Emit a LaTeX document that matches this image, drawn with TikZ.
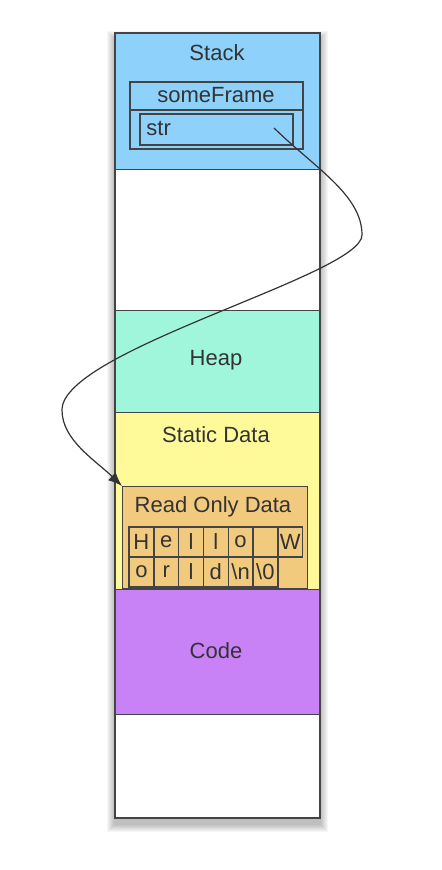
\documentclass[tikz,border=0pt]{standalone}
\usepackage{fontspec}
\setmainfont{Liberation Sans}
\usetikzlibrary{arrows.meta}
\usetikzlibrary{math}
\definecolor{stackblue}{HTML}{8ED1FA}
\definecolor{heapgreen}{HTML}{A0F6DA}
\definecolor{staticyellow}{HTML}{FFFA99}
\definecolor{codepurple}{HTML}{C982F6}
\definecolor{rodorange}{HTML}{F1CA7E}
\definecolor{txtgray}{HTML}{333333}
\definecolor{linegray}{HTML}{444444}

\begin{document}
\begin{tikzpicture}[x=0.5pt,y=-0.5pt,
  lbl/.style={text=txtgray,font=\fontsize{11}{13}\selectfont,inner sep=0pt},
  seg/.style={draw=linegray,line width=0.6pt},
  box/.style={draw=linegray,line width=0.7pt},
  cell/.style={box,minimum width=12.4pt,minimum height=15pt,inner sep=0pt,
    text=txtgray,font=\fontsize{11}{13}\selectfont},
  ptrline/.style={draw=txtgray,line width=0.6pt,-{Latex[length=7pt,width=5.5pt]}}]
 \useasboundingbox (0,0) rectangle (442,870);
 % shadow
 \foreach \s in {1,...,8}
   \fill[black,opacity=0.035] (115-\s,39-\s) rectangle (320+\s,824+\s);
 \def\xl{115}
 \def\xr{320}
 \foreach \y / \col [remember=\y as \oldy (initially 33)] in {170/stackblue, 311/white, 413/heapgreen, 590/staticyellow, 715/codepurple, 818/white}
 {
   \fill[\col] (\xl,\oldy) rectangle (\xr,\y);
   \draw[seg] (\xl,\y) -- (\xr,\y);
 }
 \draw[draw=linegray,line width=1pt] (\xl,33) rectangle (\xr,818);

 \node[lbl] (stack) at (217,53) {Stack};
 \node[lbl] (heap) at (216,360) {Heap};
 \node[lbl] (static) at (216,435) {Static Data};
 \node[lbl] (code) at (216,651) {Code};

 % frame with the local variable
 \draw[box] (130,82) rectangle (303,149);
 \draw[box] (130,110) -- (303,110);
 \node[lbl] (frame) at (216,95) {someFrame};
 \draw[box] (140,114) rectangle (293,145);
 \node[lbl,anchor=west] (str) at (146,129) {str};
 \coordinate (ptr) at (274,128);

 % read only data
 \node[box,fill=rodorange,anchor=north west,minimum width=92.5pt,minimum height=51pt,inner sep=0pt] (rod) at (122,486) {};
 \node[lbl] (rodlbl) at (213,507) {Read Only Data};
 \foreach \c [count=\i from 0] in {H,e,l,l,o,{},W}
   \node[cell] (a\i) at (129+24.8*\i+12.4,542) {\c};
 \foreach \c [count=\i from 0] in {o,r,l,d,\textbackslash n,\textbackslash 0}
   \node[cell] (b\i) at (129+24.8*\i+12.4,572) {\c};

 \draw[ptrline] (ptr) .. controls (315,168) and (362,195) .. (362,235)
   .. controls (362,275) and (62,350) .. (62,410)
   .. controls (62,440) and (95,460) .. (rod.north west);
\end{tikzpicture}
\end{document}
